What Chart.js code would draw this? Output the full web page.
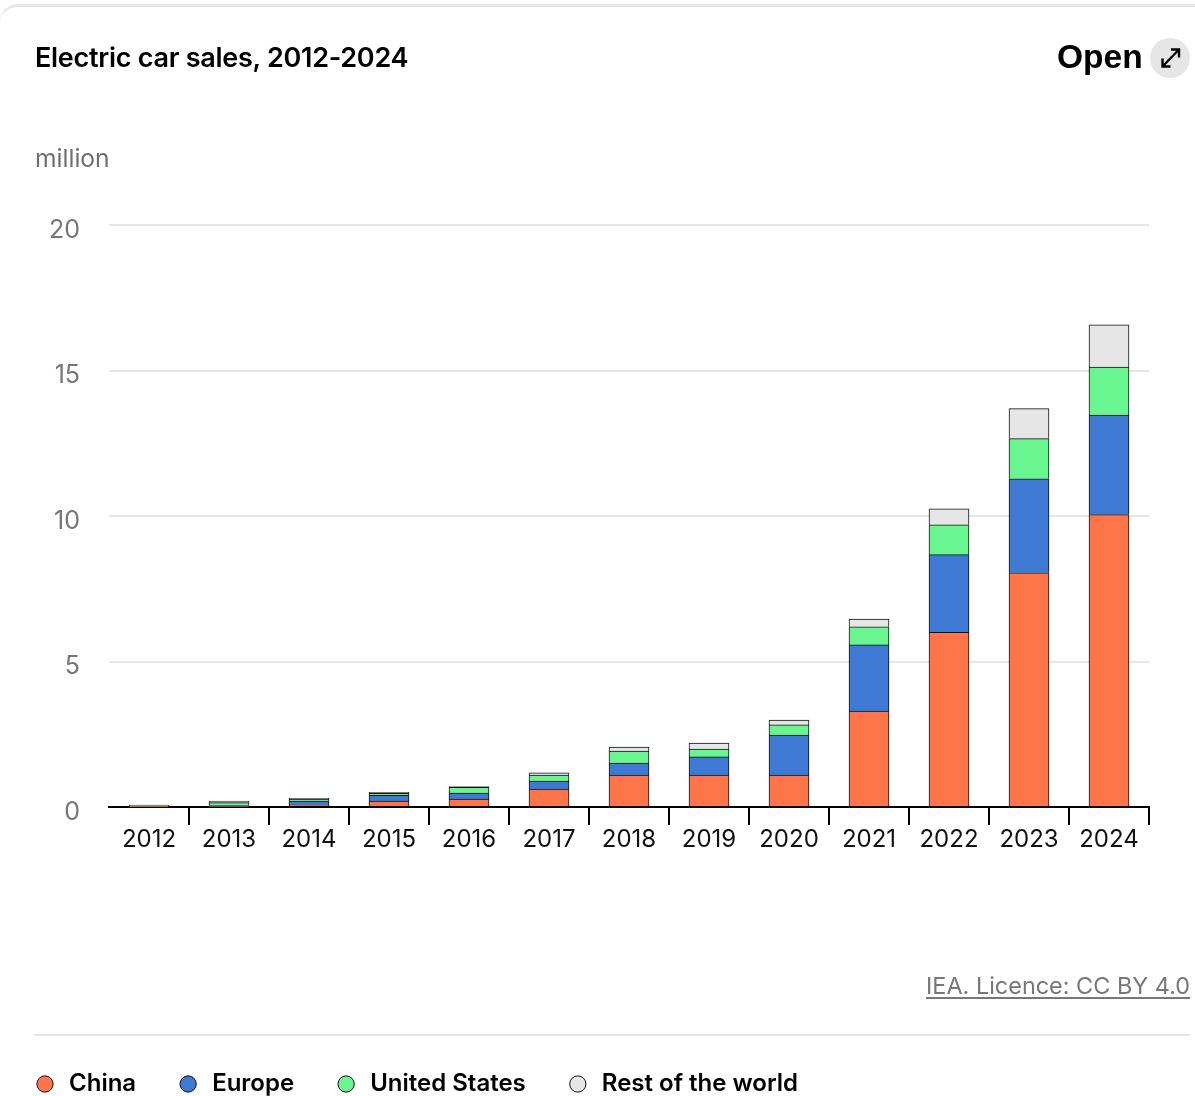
<!DOCTYPE html>
<html><head><meta charset="utf-8">
<script src="https://cdn.jsdelivr.net/npm/chart.js@4"></script>
<style>
html,body{margin:0;padding:0;background:#fff;width:1195px;height:1096px;overflow:hidden;font-family:Inter,sans-serif}
#wrap{position:absolute;left:0;top:0;width:1195px;height:1096px;overflow:hidden}
canvas{position:absolute;left:-7px;top:0}
.abs{position:absolute;white-space:nowrap}
#frame{left:0;top:4px;width:1195px;height:30px;border-top:3px solid #e6e6e6;border-radius:18px 0 0 0;box-sizing:border-box}
#title{left:35px;top:40px;font-size:27px;font-weight:600;line-height:36px;color:#000;letter-spacing:-.27px}
#open{left:1057px;top:37px;font:bold 33.5px/40px "Liberation Sans",sans-serif;color:#000}
#btn{left:1150px;top:38px;width:40px;height:40px;border-radius:50%;background:#e6e6e6}
#unit{left:35px;top:143px;font-size:24.6px;line-height:30px;color:#6f6f6f}
#lic{left:926px;top:971px;font-size:23.45px;line-height:30px;color:#777;text-decoration:underline;text-underline-offset:3px}
#rule{left:34px;top:1034px;width:1156px;height:2px;background:#e6e6e6}
</style></head><body>
<div id="wrap">
<canvas id="c" width="1202" height="1106" style="width:1202px;height:1106px"></canvas>
<div class="abs" id="frame"></div>
<div class="abs" id="title">Electric car sales, 2012-2024</div>
<div class="abs" id="open">Open</div>
<div class="abs" id="btn"><svg width="40" height="40" viewBox="0 0 40 40" fill="none" stroke="#000" stroke-width="2.4"><path d="M12.5 28.5 L29 11.5 M21 11.5 H29 V19.5 M12.5 20.5 V28.5 H20.5"/></svg></div>
<div class="abs" id="unit">million</div>
<div class="abs" id="lic">IEA. Licence: CC BY 4.0</div>
<div class="abs" id="rule"></div>
</div>
<script>
const years = ["2012","2013","2014","2015","2016","2017","2018","2019","2020","2021","2022","2023","2024"];
const china = [0.01,0.02,0.07,0.2,0.27,0.62,1.1,1.1,1.1,3.3,6.0,8.05,10.05];
const europe = [0.02,0.03,0.13,0.2,0.21,0.27,0.41,0.62,1.37,2.27,2.67,3.23,3.42];
const unitedStates = [0.03,0.1,0.07,0.07,0.2,0.21,0.41,0.27,0.35,0.62,1.03,1.38,1.65];
const restOfWorld = [0.01,0.05,0.03,0.03,0.02,0.07,0.14,0.21,0.17,0.27,0.55,1.03,1.45];
const yTicks = [0,5,10,15,20];
const seriesNames = ["China","Europe","United States","Rest of the world"];
const seriesColors = ["#FF754A","#3E7AD3","#69F590","#E6E6E6"];
const seriesValues = [china,europe,unitedStates,restOfWorld];
const font = "Inter";
new Chart(document.getElementById("c"),{
  type:"bar",
  data:{labels:years,datasets:seriesValues.map((d,i)=>({
    label:seriesNames[i],data:d,backgroundColor:seriesColors[i],
    borderColor:"#111",borderWidth:1,barThickness:40,stack:"s"
  }))},
  options:{
    responsive:false,animation:false,devicePixelRatio:1,
    layout:{padding:{left:0,right:46,top:225,bottom:0}},
    plugins:{
      tooltip:{enabled:false},
      legend:{position:"bottom",align:"start",
        labels:{usePointStyle:true,pointStyle:"circle",boxHeight:11.5,padding:40,
          color:"#000",font:{family:font,size:24,weight:"600"}}}
    },
    scales:{
      x:{stacked:true,
        afterFit:s=>{s.height=225},
        border:{color:"#000",width:2},
        grid:{drawOnChartArea:false,drawTicks:true,tickLength:18,tickWidth:2,
          tickColor:c=>c.index===0?"rgba(0,0,0,0)":"#000",
          color:c=>c.index===0?"rgba(0,0,0,0)":"#000",lineWidth:2},
        ticks:{color:"#111",padding:0,maxRotation:0,autoSkip:false,font:{family:font,size:24}}
      },
      y:{stacked:true,min:0,max:20,
        afterFit:s=>{s.width=116},
        afterBuildTicks:s=>{s.ticks=yTicks.map(v=>({value:v}))},
        border:{display:false},
        grid:{color:"#e6e6e6",lineWidth:2,drawTicks:false},
        ticks:{color:"#777",padding:29,labelOffset:5,font:{family:font,size:25}}
      }
    }
  }
});
</script>
</body></html>
